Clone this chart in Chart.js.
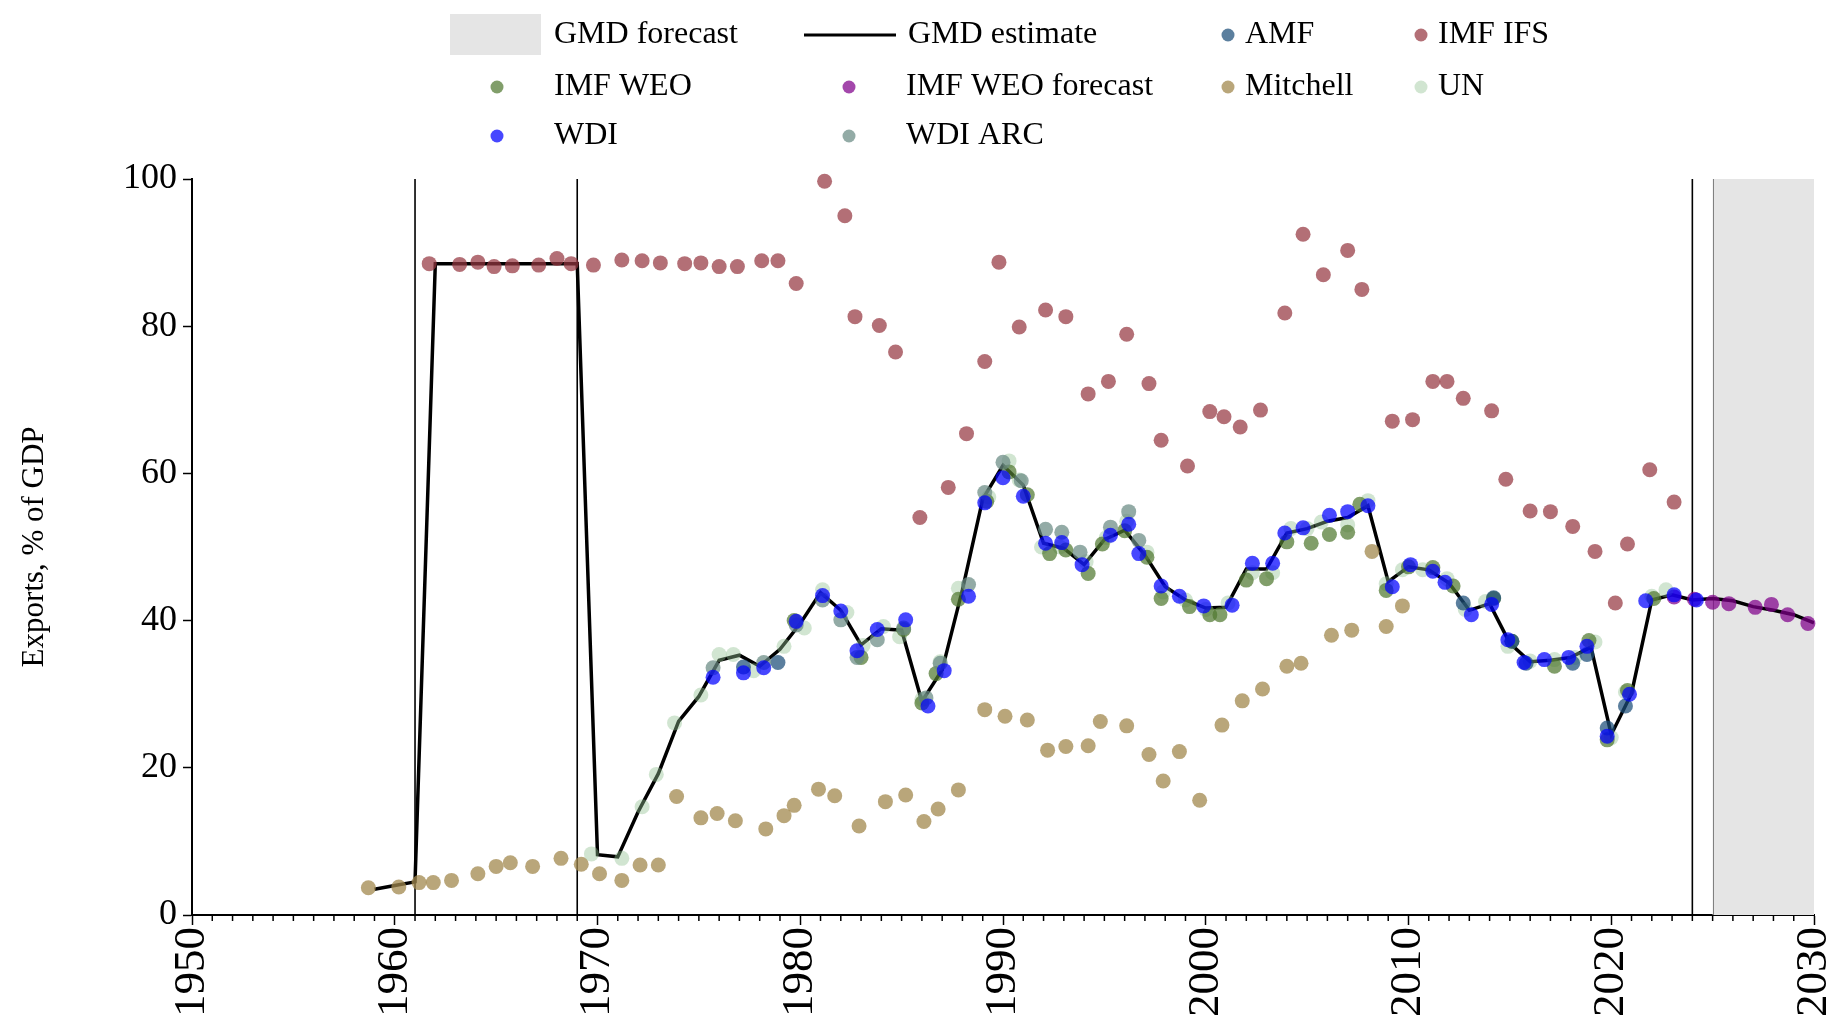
<!DOCTYPE html>
<html>
<head>
<meta charset="utf-8">
<title>Exports, % of GDP</title>
<script src="https://cdn.jsdelivr.net/npm/chart.js@4.4.1/dist/chart.umd.min.js"></script>
<style>
  html, body { margin: 0; padding: 0; background: #fff; }
  #wrap { width: 1837px; height: 1019px; }
</style>
</head>
<body>
<div id="wrap"><canvas id="chart" width="1837" height="1019"></canvas></div>
<script>
// GMD estimate (one value per year)
const estYears = [
  1959, 1960, 1961, 1962, 1963, 1964, 1965, 1966, 1967, 1968, 1969,
  1970, 1971, 1972, 1973, 1974, 1975, 1976, 1977, 1978, 1979,
  1980, 1981, 1982, 1983, 1984, 1985, 1986, 1987, 1988, 1989,
  1990, 1991, 1992, 1993, 1994, 1995, 1996, 1997, 1998, 1999,
  2000, 2001, 2002, 2003, 2004, 2005, 2006, 2007, 2008, 2009,
  2010, 2011, 2012, 2013, 2014, 2015, 2016, 2017, 2018, 2019,
  2020, 2021, 2022, 2023, 2024, 2025, 2026, 2027, 2028, 2029, 2030
];
const estValues = [
  3.5, 4.0, 4.5, 88.5, 88.5, 88.5, 88.5, 88.5, 88.5, 88.5, 88.5,
  8.2, 7.9, 14.0, 19.2, 26.3, 29.7, 34.6, 35.3, 33.8, 36.1,
  39.6, 43.8, 41.4, 36.7, 38.9, 38.7, 29.0, 33.3, 44.2, 56.5,
  61.1, 58.4, 50.5, 49.8, 47.6, 51.0, 52.3, 48.9, 44.6, 42.8,
  41.7, 41.8, 47.0, 47.0, 51.9, 52.5, 53.5, 54.0, 55.6, 45.3,
  47.3, 46.9, 45.1, 41.4, 42.3, 36.9, 34.4, 34.6, 35.0, 36.4,
  24.5, 30.1, 42.8, 43.5, 42.8, 43.0, 42.7, 41.9, 41.4, 40.8, 39.7
];

// source points (x, sources are drawn slightly apart)
const ifsYears = [1961.7, 1963.2, 1964.1, 1964.9, 1965.8, 1967.1, 1968.0, 1968.7, 1969.8, 1971.2,
  1972.2, 1973.1, 1974.3, 1975.1, 1976.0, 1976.9, 1978.1, 1978.9, 1979.8, 1981.2,
  1982.2, 1982.7, 1983.9, 1984.7, 1985.9, 1987.3, 1988.2, 1989.1, 1989.8, 1990.8,
  1992.1, 1993.1, 1994.2, 1995.2, 1996.1, 1997.2, 1997.8, 1999.1, 2000.2, 2000.9,
  2001.7, 2002.7, 2003.9, 2004.8, 2005.8, 2007.0, 2007.7, 2009.2, 2010.2, 2011.2,
  2011.9, 2012.7, 2014.1, 2014.8, 2016.0, 2017.0, 2018.1, 2019.2, 2020.2, 2020.8,
  2021.9, 2023.1];
const ifsValues = [88.5, 88.4, 88.7, 88.1, 88.2, 88.3, 89.2, 88.5, 88.3, 89.0,
  88.9, 88.6, 88.5, 88.6, 88.1, 88.1, 88.9, 88.9, 85.8, 99.7,
  95.0, 81.3, 80.1, 76.5, 54.0, 58.1, 65.4, 75.2, 88.7, 79.9,
  82.2, 81.3, 70.8, 72.5, 78.9, 72.2, 64.5, 61.0, 68.4, 67.7,
  66.3, 68.6, 81.8, 92.5, 87.0, 90.3, 85.0, 67.1, 67.3, 72.5,
  72.5, 70.2, 68.5, 59.2, 54.9, 54.8, 52.8, 49.4, 42.4, 50.4,
  60.5, 56.1];

const mitchellYears = [1958.7, 1960.2, 1961.2, 1961.9, 1962.8, 1964.1, 1965.0, 1965.7, 1966.8, 1968.2,
  1969.2, 1970.1, 1971.2, 1972.1, 1973.0, 1973.9, 1975.1, 1975.9, 1976.8, 1978.3,
  1979.2, 1979.7, 1980.9, 1981.7, 1982.9, 1984.2, 1985.2, 1986.1, 1986.8, 1987.8,
  1989.1, 1990.1, 1991.2, 1992.2, 1993.1, 1994.2, 1994.8, 1996.1, 1997.2, 1997.9,
  1998.7, 1999.7, 2000.8, 2001.8, 2002.8, 2004.0, 2004.7, 2006.2, 2007.2, 2008.2,
  2008.9, 2009.7];
const mitchellValues = [3.7, 3.8, 4.4, 4.4, 4.7, 5.6, 6.6, 7.1, 6.6, 7.7,
  6.9, 5.6, 4.7, 6.8, 6.8, 16.1, 13.2, 13.8, 12.8, 11.7,
  13.5, 14.9, 17.1, 16.2, 12.1, 15.4, 16.3, 12.7, 14.4, 17.0,
  27.9, 27.0, 26.5, 22.4, 22.9, 23.0, 26.3, 25.7, 21.8, 18.2,
  22.2, 15.6, 25.8, 29.1, 30.7, 33.8, 34.2, 38.0, 38.7, 49.4,
  39.2, 42.0];

const unYears = [1969.7, 1971.2, 1972.2, 1972.9, 1973.8, 1975.1, 1976.0, 1976.7, 1977.7, 1979.2,
  1980.2, 1981.1, 1982.3, 1983.1, 1984.1, 1984.9, 1986.0, 1986.9, 1987.8, 1989.3,
  1990.3, 1990.8, 1991.9, 1992.8, 1994.1, 1995.1, 1996.1, 1997.1, 1997.9, 1999.0,
  2000.0, 2001.1, 2002.3, 2003.3, 2004.2, 2005.0, 2005.7, 2007.0, 2008.0, 2008.9,
  2009.7, 2010.7, 2011.9, 2012.8, 2013.8, 2014.9, 2016.0, 2017.2, 2018.2, 2019.2,
  2020.0, 2020.7, 2022.0, 2022.7];
const unValues = [8.3, 7.7, 14.7, 19.1, 26.1, 29.9, 35.4, 35.4, 33.2, 36.5,
  39.0, 44.2, 41.1, 36.6, 39.2, 37.8, 29.3, 34.4, 44.4, 56.8,
  61.7, 59.1, 50.0, 50.0, 48.0, 51.3, 53.5, 49.3, 43.9, 42.8,
  41.5, 42.4, 46.5, 46.5, 52.5, 52.5, 53.4, 53.0, 56.3, 45.0,
  46.9, 46.9, 45.7, 41.5, 42.6, 36.5, 34.5, 34.7, 35.0, 37.1,
  24.1, 30.3, 43.3, 44.2];

const wdiYears = [1975.7, 1977.2, 1978.2, 1979.8, 1981.1, 1982.0, 1982.8, 1983.8, 1985.2, 1986.3,
  1987.1, 1988.3, 1989.1, 1990.0, 1991.0, 1992.1, 1992.9, 1993.9, 1995.3, 1996.2,
  1996.7, 1997.8, 1998.7, 1999.9, 2001.3, 2002.3, 2003.3, 2003.9, 2004.8, 2006.1,
  2007.0, 2008.0, 2009.2, 2010.1, 2011.2, 2011.8, 2013.1, 2014.1, 2014.9, 2015.7,
  2016.7, 2017.9, 2018.8, 2019.8, 2020.9, 2021.7, 2023.1, 2024.2];
const wdiValues = [32.3, 32.9, 33.6, 39.9, 43.4, 41.3, 35.9, 38.8, 40.1, 28.4,
  33.2, 43.3, 56.0, 59.4, 56.9, 50.5, 50.6, 47.6, 51.6, 53.1,
  49.1, 44.7, 43.3, 42.0, 42.1, 47.8, 47.8, 51.9, 52.6, 54.3,
  54.8, 55.6, 44.6, 47.6, 46.7, 45.2, 40.8, 42.2, 37.4, 34.3,
  34.7, 35.0, 36.5, 24.3, 30.0, 42.7, 43.5, 42.8];

const wdiArcYears = [1975.7, 1978.2, 1979.8, 1981.1, 1982.0, 1982.8, 1983.8, 1985.1, 1986.2, 1986.9,
  1988.3, 1989.1, 1990.0, 1990.9, 1992.1, 1992.9, 1993.8, 1995.3, 1996.2, 1996.7];
const wdiArcValues = [33.6, 34.3, 39.4, 42.8, 40.1, 35.0, 37.4, 39.0, 29.5, 34.2,
  44.9, 57.4, 61.5, 59.0, 52.4, 52.0, 49.3, 52.7, 54.8, 50.9];

const weoYears = [1979.7, 1983.0, 1985.1, 1986.0, 1986.7, 1987.8, 1989.2, 1990.3, 1991.2, 1992.3,
  1993.1, 1994.2, 1994.9, 1996.0, 1997.1, 1997.8, 1999.2, 2000.2, 2000.7, 2002.0,
  2003.0, 2004.0, 2005.2, 2006.1, 2007.0, 2007.6, 2008.9, 2010.0, 2011.2, 2012.2,
  2014.2, 2015.1, 2017.2, 2018.9, 2019.8, 2020.8, 2022.1];
const weoValues = [40.0, 35.0, 38.8, 28.8, 32.8, 42.9, 56.2, 60.2, 57.1, 49.1,
  49.6, 46.4, 50.4, 52.2, 48.6, 43.0, 41.9, 40.8, 40.8, 45.5,
  45.7, 50.7, 50.5, 51.7, 52.0, 55.8, 44.1, 47.3, 47.2, 44.7,
  43.0, 37.2, 33.8, 37.3, 23.8, 30.5, 43.0];

const weoForecastYears = [2023.1, 2024.1, 2025.0, 2025.8, 2027.1, 2027.9, 2028.7, 2029.7];
const weoForecastValues = [43.2, 42.9, 42.5, 42.3, 41.8, 42.2, 40.8, 39.6];

const amfYears = [1977.2, 1978.9, 2012.7, 2014.2, 2015.1, 2015.8, 2018.1, 2018.8, 2019.8, 2020.7];
const amfValues = [33.7, 34.3, 42.4, 43.1, 37.2, 34.2, 34.2, 35.4, 25.4, 28.4];

// vertical markers and forecast band
const breakYears = [1961, 1969, 2024];
const forecastStart = 2025;
const forecastEnd = 2030;

const FONT = "'Liberation Serif', 'Times New Roman', serif";

const colors = {
  forecast: '#e5e5e5',
  estimate: '#000000',
  amf: 'rgba(28, 78, 120, 0.72)',
  ifs: 'rgba(150, 55, 65, 0.72)',
  weo: 'rgba(81, 120, 48, 0.72)',
  weoForecast: 'rgba(128, 0, 139, 0.72)',
  mitchell: 'rgba(161, 136, 77, 0.75)',
  un: 'rgba(145, 192, 145, 0.42)',
  wdi: 'rgba(0, 0, 255, 0.72)',
  wdiArc: 'rgba(105, 139, 132, 0.72)'
};

const DOT = 7.5;

function toPoints(xs, ys) {
    return xs.map((x, i) => ({ x: x, y: ys[i] }));
}

function dotSet(label, xs, ys, color, order) {
    return {
        type: 'scatter',
        label: label,
        data: toPoints(xs, ys),
        backgroundColor: color,
        borderColor: color,
        borderWidth: 0,
        pointRadius: DOT,
        pointHoverRadius: DOT,
        clip: false,
        order: order
    };
}

// legend drawn by hand so it keeps the four-column layout
const legendItems = [
    { label: 'GMD forecast', kind: 'box', color: colors.forecast, x: 450, y: 35 },
    { label: 'GMD estimate', kind: 'line', color: colors.estimate, x: 804, y: 35 },
    { label: 'AMF', kind: 'dot', color: colors.amf, x: 1228, y: 35 },
    { label: 'IMF IFS', kind: 'dot', color: colors.ifs, x: 1421, y: 35 },
    { label: 'IMF WEO', kind: 'dot', color: colors.weo, x: 497, y: 87 },
    { label: 'IMF WEO forecast', kind: 'dot', color: colors.weoForecast, x: 849, y: 87 },
    { label: 'Mitchell', kind: 'dot', color: colors.mitchell, x: 1228, y: 87 },
    { label: 'UN', kind: 'dot', color: colors.un, x: 1421, y: 87 },
    { label: 'WDI', kind: 'dot', color: colors.wdi, x: 497, y: 136 },
    { label: 'WDI ARC', kind: 'dot', color: colors.wdiArc, x: 849, y: 136 }
];

const decorations = {
    id: 'decorations',
    beforeDatasetsDraw(chart) {
        const { ctx, chartArea, scales } = chart;
        const x = scales.x;
        ctx.save();
        const x0 = x.getPixelForValue(forecastStart);
        const x1 = x.getPixelForValue(forecastEnd);
        ctx.fillStyle = colors.forecast;
        ctx.fillRect(x0, chartArea.top, x1 - x0, chartArea.bottom - chartArea.top);
        ctx.strokeStyle = '#808080';
        ctx.lineWidth = 1;
        ctx.beginPath();
        ctx.moveTo(Math.round(x0) + 0.5, chartArea.top);
        ctx.lineTo(Math.round(x0) + 0.5, chartArea.bottom);
        ctx.stroke();

        ctx.strokeStyle = '#000';
        ctx.lineWidth = 1.6;
        breakYears.forEach(yr => {
            const px = x.getPixelForValue(yr);
            ctx.beginPath();
            ctx.moveTo(px, chartArea.top);
            ctx.lineTo(px, chartArea.bottom);
            ctx.stroke();
        });
        ctx.restore();
    },
    afterDraw(chart) {
        const { ctx, chartArea, scales } = chart;
        const x = scales.x;
        ctx.save();

        // minor ticks every year
        ctx.strokeStyle = '#000';
        ctx.lineWidth = 1.5;
        for (let yr = x.min; yr <= x.max; yr++) {
            if (yr % 10 === 0) continue;
            const px = x.getPixelForValue(yr);
            ctx.beginPath();
            ctx.moveTo(px, chartArea.bottom);
            ctx.lineTo(px, chartArea.bottom + 6);
            ctx.stroke();
        }

        ctx.font = '32px ' + FONT;
        ctx.textBaseline = 'middle';
        ctx.fillStyle = '#000';
        legendItems.forEach(item => {
            if (item.kind === 'box') {
                ctx.fillStyle = item.color;
                ctx.fillRect(item.x, item.y - 21, 91, 41);
                ctx.fillStyle = '#000';
                ctx.fillText(item.label, item.x + 104, item.y);
            } else if (item.kind === 'line') {
                ctx.strokeStyle = item.color;
                ctx.lineWidth = 3;
                ctx.beginPath();
                ctx.moveTo(item.x, item.y);
                ctx.lineTo(item.x + 92, item.y);
                ctx.stroke();
                ctx.fillText(item.label, item.x + 104, item.y);
            } else {
                ctx.fillStyle = item.color;
                ctx.beginPath();
                ctx.arc(item.x, item.y, 6.5, 0, Math.PI * 2);
                ctx.fill();
                ctx.fillStyle = '#000';
                const tx = (item.x < 1000) ? item.x + 57 : item.x + 17;
                ctx.fillText(item.label, tx, item.y);
            }
        });
        ctx.restore();
    }
};

const datasets = [
    {
        type: 'line',
        label: 'GMD estimate',
        data: toPoints(estYears, estValues),
        borderColor: colors.estimate,
        borderWidth: 3.5,
        pointRadius: 0,
        tension: 0,
        fill: false,
        order: 20
    },
    dotSet('IMF IFS', ifsYears, ifsValues, colors.ifs, 9),
    dotSet('Mitchell', mitchellYears, mitchellValues, colors.mitchell, 8),
    dotSet('IMF WEO forecast', weoForecastYears, weoForecastValues, colors.weoForecast, 7),
    dotSet('UN', unYears, unValues, colors.un, 6),
    dotSet('IMF WEO', weoYears, weoValues, colors.weo, 5),
    dotSet('AMF', amfYears, amfValues, colors.amf, 4),
    dotSet('WDI ARC', wdiArcYears, wdiArcValues, colors.wdiArc, 3),
    dotSet('WDI', wdiYears, wdiValues, colors.wdi, 1)
];

new Chart(document.getElementById('chart'), {
    type: 'scatter',
    data: { datasets: datasets },
    plugins: [decorations],
    options: {
        responsive: false,
        animation: false,
        events: [],
        layout: { padding: { top: 179, right: 23, bottom: 0, left: 0 } },
        plugins: {
            legend: { display: false },
            tooltip: { enabled: false }
        },
        scales: {
            x: {
                type: 'linear',
                min: 1950,
                max: 2030,
                afterFit: s => {
                    s.height = 104;
                    s.paddingLeft = 0;
                    s.paddingRight = 0;
                },
                border: { display: true, color: '#000', width: 2 },
                grid: { display: true, drawOnChartArea: false, drawTicks: true, tickLength: 10, tickWidth: 1.5, tickColor: '#000' },
                ticks: {
                    stepSize: 10,
                    maxRotation: 90,
                    minRotation: 90,
                    padding: 2,
                    color: '#000',
                    font: { family: FONT, size: 45 },
                    callback: v => String(v)
                }
            },
            y: {
                type: 'linear',
                min: 0,
                max: 100,
                afterFit: s => { s.width = 192; },
                border: { display: true, color: '#000', width: 2 },
                grid: { display: true, drawOnChartArea: false, drawTicks: true, tickLength: 9, tickWidth: 1.5, tickColor: '#000' },
                ticks: {
                    stepSize: 20,
                    padding: 6,
                    color: '#000',
                    font: { family: FONT, size: 36 },
                    callback: v => String(v)
                },
                title: {
                    display: true,
                    text: 'Exports, % of GDP',
                    color: '#000',
                    font: { family: FONT, size: 31 },
                    padding: { top: 16, bottom: 0 }
                }
            }
        }
    }
});
</script>
</body>
</html>
